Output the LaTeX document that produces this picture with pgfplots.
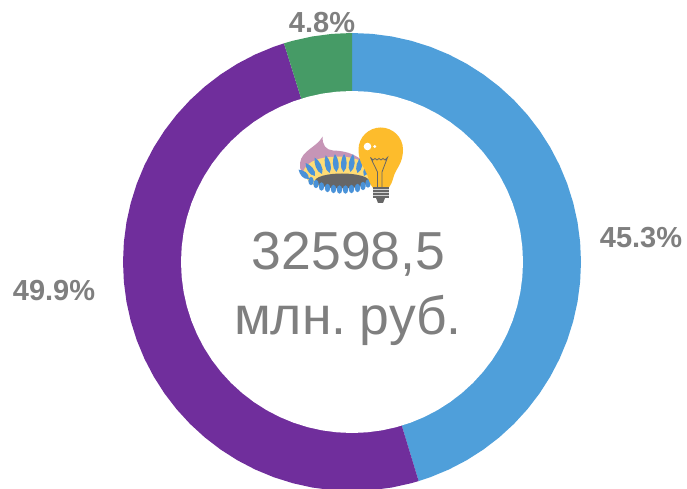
\documentclass[border=0pt]{standalone}
\usepackage{pgfplots}
\pgfplotsset{compat=1.18}
\usepgfplotslibrary{polar}
\usepackage{fontspec}
\setmainfont{Liberation Sans}
\definecolor{cblue}{HTML}{4F9FDA}
\definecolor{cpurple}{HTML}{702E9C}
\definecolor{cgreen}{HTML}{469B66}
\definecolor{clab}{HTML}{7F7F7F}
\definecolor{bulb}{HTML}{FDBC2C}
\definecolor{flamep}{HTML}{C695B6}
\definecolor{flamey}{HTML}{FFDC75}
\definecolor{fblue}{HTML}{4A92D8}
\definecolor{dgrey}{HTML}{666666}
\begin{document}
\begin{tikzpicture}[x=1pt,y=1pt]
\path[use as bounding box] (0,0) rectangle (687,489);
\clip (0,0) rectangle (687,489);
\begin{polaraxis}[
  at={(352pt,227pt)},anchor=center,
  scale only axis,width=458pt,height=458pt,
  ymin=0,ymax=229,xmin=0,xmax=360,
  hide axis,clip=false]
% 45.3 %
\addplot[fill=cblue,draw=none] coordinates {(0,0)
(90,229)(85,229)(80,229)(75,229)(70,229)(65,229)(60,229)(55,229)(50,229)(45,229)(40,229)(35,229)(30,229)(25,229)(20,229)(15,229)(10,229)(5,229)(0,229)
(-5,229)(-10,229)(-15,229)(-20,229)(-25,229)(-30,229)(-35,229)(-40,229)(-45,229)(-50,229)(-55,229)(-60,229)(-65,229)(-70,229)(-73.08,229)} -- cycle;
% 49.9 %
\addplot[fill=cpurple,draw=none] coordinates {(0,0)
(-73.08,229)(-75,229)(-80,229)(-85,229)(-90,229)(-95,229)(-100,229)(-105,229)(-110,229)(-115,229)(-120,229)(-125,229)(-130,229)(-135,229)(-140,229)(-145,229)(-150,229)(-155,229)(-160,229)(-165,229)(-170,229)(-175,229)(-180,229)
(-185,229)(-190,229)(-195,229)(-200,229)(-205,229)(-210,229)(-215,229)(-220,229)(-225,229)(-230,229)(-235,229)(-240,229)(-245,229)(-250,229)(-252.72,229)} -- cycle;
% 4.8 %
\addplot[fill=cgreen,draw=none] coordinates {(0,0)
(-252.72,229)(-255,229)(-260,229)(-265,229)(-270,229)} -- cycle;
% hole
\addplot[fill=white,draw=none] coordinates {
(0,171)(5,171)(10,171)(15,171)(20,171)(25,171)(30,171)(35,171)(40,171)(45,171)(50,171)(55,171)(60,171)(65,171)(70,171)(75,171)(80,171)(85,171)(90,171)
(95,171)(100,171)(105,171)(110,171)(115,171)(120,171)(125,171)(130,171)(135,171)(140,171)(145,171)(150,171)(155,171)(160,171)(165,171)(170,171)(175,171)(180,171)
(185,171)(190,171)(195,171)(200,171)(205,171)(210,171)(215,171)(220,171)(225,171)(230,171)(235,171)(240,171)(245,171)(250,171)(255,171)(260,171)(265,171)(270,171)
(275,171)(280,171)(285,171)(290,171)(295,171)(300,171)(305,171)(310,171)(315,171)(320,171)(325,171)(330,171)(335,171)(340,171)(345,171)(350,171)(355,171)} -- cycle;
\end{polaraxis}
% labels
\node[text=clab,font=\bfseries\fontsize{29}{30}\selectfont,inner sep=0pt] at (322,466) {4.8\%};
\node[text=clab,font=\bfseries\fontsize{29}{30}\selectfont,inner sep=0pt] at (641,251) {45.3\%};
\node[text=clab,font=\bfseries\fontsize{29}{30}\selectfont,inner sep=0pt] at (54,198) {49.9\%};
\node[text=clab,font=\fontsize{53.5}{60}\selectfont,inner sep=0pt] at (348.5,235) {32598,5};
\node[text=clab,font=\fontsize{53.5}{60}\selectfont,inner sep=0pt] at (348,169) {млн.\hspace{0.25em}руб.};
% icon (image pixel coordinates)
\begin{scope}[shift={(0,489)},y=-1pt]
\fill[flamep] (322.7,136.5) .. controls (322,145) and (326,150) .. (333,150.5)
  .. controls (345,151) and (352,153) .. (362,160) -- (372,180) -- (310,180)
  .. controls (303,176) and (299,170) .. (300,163)
  .. controls (302,150) and (316,148) .. (322.7,136.5) -- cycle;
\fill[flamey] (303,172) .. controls (306,163) and (316,158) .. (330,157)
  .. controls (345,156) and (355,157) .. (364,163) -- (372,182) -- (316,186)
  .. controls (310,184) and (305,178) .. (303,172) -- cycle;
% burner flames, upper row
\foreach \x/\y/\r/\h in {309/174/48/14,315/171/36/16,322/169/24/18,329.5/168/12/18,336.5/167/5/18,343.5/167/-2/18,350.5/167/-8/18,357.5/168/-14/17,364/171/-24/15,369/175/-32/13}{
  \fill[fblue] (\x,\y+5) [rotate around={\r:(\x,\y+5)}] .. controls (\x-4.6,\y+1) and (\x-3,\y-\h+9) .. (\x,\y-\h+5)
     .. controls (\x+3,\y-\h+9) and (\x+4.6,\y+1) .. (\x,\y+5) -- cycle;
}
\fill[dgrey] (342,181) ellipse [x radius=27,y radius=7.5];
\foreach \x/\y in {311/181,316/184,321.5/186.5,327.5/188,333.5/189,339.5/189.5,345.5/189.5,351.5/189,357.5/188,363/186,368/183.5,371.5/180.5}{
  \fill[fblue] (\x,\y) ellipse [x radius=2.7,y radius=4.2];
}
% bulb
\fill[bulb] (380.7,127.5) .. controls (392.5,127.5) and (403,137) .. (403,149.5)
  .. controls (403,164) and (396,168) .. (393.5,177)
  .. controls (392.5,181) and (391,185) .. (388.5,188) -- (373,188)
  .. controls (370.5,185) and (369,181) .. (368,177)
  .. controls (365.5,168) and (358.5,164) .. (358.5,149.5)
  .. controls (358.5,137) and (369,127.5) .. (380.7,127.5) -- cycle;
\fill[white] (367.5,146.5) circle (3.8);
\fill[white] (374.7,146.5) circle (1.6);
\draw[dgrey,line width=0.8pt] (370.5,157.5) -- (373,160) -- (375,158.5) -- (377,160) -- (379,158.5) -- (381,160) -- (383,158.5) -- (385,160) -- (387.5,157.5)
  -- (382,172) -- (382,187) (370.5,157.5) -- (377.5,172) -- (377.5,187);
\fill[dgrey] (372.5,187) rectangle (388.5,198);
\fill[dgrey] (376,198) -- (385,198) -- (383,203) -- (378,203) -- cycle;
\foreach \y in {189.5,192.5,195.5}{\draw[white!70!dgrey,line width=0.7pt] (372.5,\y) -- (388.5,\y);}
\end{scope}
\end{tikzpicture}
\end{document}
